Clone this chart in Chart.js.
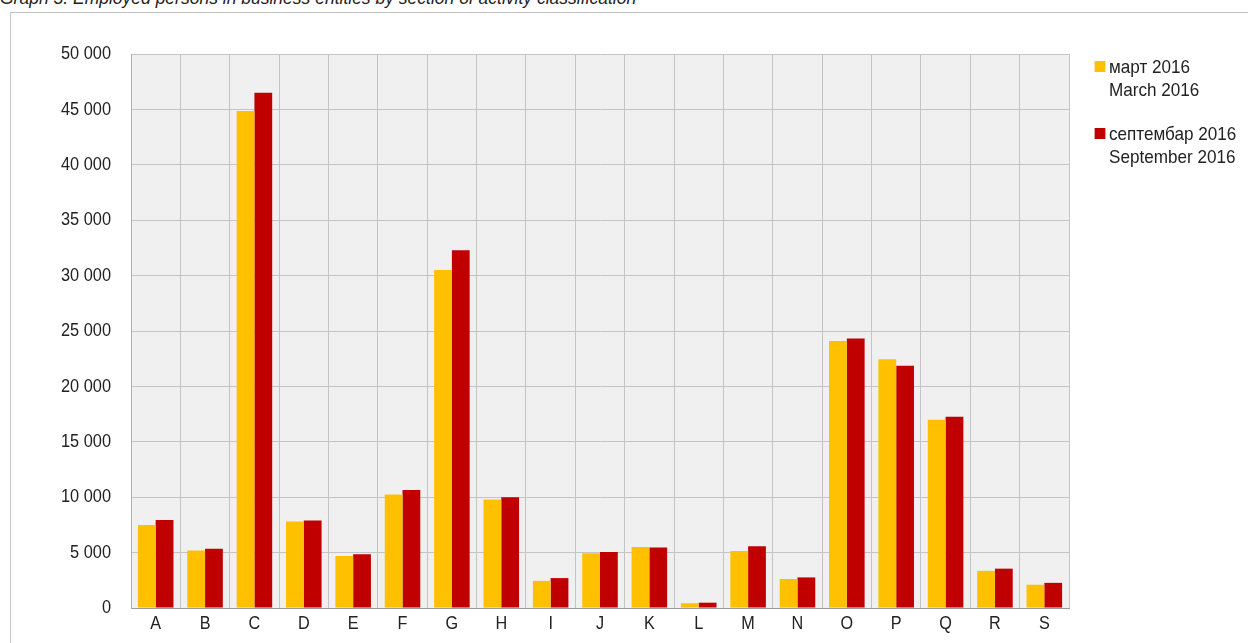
<!DOCTYPE html>
<html>
<head>
<meta charset="utf-8">
<script src="https://cdn.jsdelivr.net/npm/chart.js@4/dist/chart.umd.min.js"></script>
<style>
  html, body { margin: 0; padding: 0; background: #fff; overflow: hidden; }
  #title { position: absolute; left: 0; top: -12px; font: italic 17.5px "Liberation Sans", Arial, sans-serif; color: #222; line-height: 20px; white-space: nowrap; }
  #frame { position: absolute; left: 10px; top: 12px; width: 1260px; height: 700px; border: 1px solid #c4c4c4; box-sizing: border-box; }
  #wrap { position: absolute; left: 0; top: 0; width: 1248px; height: 643px; }
  .leg { position: absolute; left: 1109px; font: 19px "Liberation Sans", Arial, sans-serif; color: #222; line-height: 23px; white-space: nowrap; transform: scaleX(0.9); transform-origin: 0 0; }
  .box { position: absolute; left: -16px; top: 6px; width: 12px; height: 11px; }
</style>
</head>
<body>
<div id="title">Graph 3. Employed persons in business entities by section of activity classification</div>
<div id="frame"></div>
<div id="wrap"><canvas id="barChart"></canvas></div>
<div class="leg" style="top:55px"><span class="box" style="background:#FFC000"></span>март 2016<br>March 2016</div>
<div class="leg" style="top:122px"><span class="box" style="background:#C00000"></span>септембар 2016<br>September 2016</div>
<script>
const sections = ["A", "B", "C", "D", "E", "F", "G", "H", "I", "J", "K", "L", "M", "N", "O", "P", "Q", "R", "S"];
const march2016 = [7500, 5200, 44850, 7800, 4700, 10250, 30500, 9800, 2450, 4950, 5500, 430, 5150, 2620, 24100, 22450, 16980, 3350, 2100];
const september2016 = [7950, 5350, 46500, 7900, 4850, 10650, 32280, 10000, 2700, 5050, 5450, 480, 5580, 2760, 24320, 21870, 17250, 3550, 2270];
const yTicks = [0, 5000, 10000, 15000, 20000, 25000, 30000, 35000, 40000, 45000, 50000];

const FONT = "19px 'Liberation Sans', Arial, sans-serif";
const fmt = v => String(v).replace(/\B(?=(\d{3})+(?!\d))/g, " ");

// plot background + narrow tick labels (the source uses a condensed face)
const plotDeco = {
    id: "plotDeco",
    beforeDraw(chart) {
        const a = chart.chartArea;
        const ctx = chart.ctx;
        ctx.save();
        ctx.fillStyle = "#F0F0F0";
        ctx.fillRect(a.left, a.top, a.right - a.left, a.bottom - a.top);
        ctx.restore();
    },
    afterDraw(chart) {
        const ctx = chart.ctx;
        const a = chart.chartArea;
        const ys = chart.scales.y, xs = chart.scales.x;
        ctx.save();
        ctx.fillStyle = "#222";
        ctx.font = FONT;
        ctx.textBaseline = "middle";
        ctx.textAlign = "right";
        ys.ticks.forEach(t => {
            ctx.save();
            ctx.translate(a.left - 20, ys.getPixelForValue(t.value));
            ctx.scale(0.86, 1);
            ctx.fillText(fmt(t.value), 0, 0);
            ctx.restore();
        });
        ctx.textAlign = "center";
        sections.forEach((s, i) => {
            ctx.save();
            ctx.translate(xs.getPixelForValue(i), a.bottom + 16);
            ctx.scale(0.9, 1);
            ctx.font = "18px 'Liberation Sans', Arial, sans-serif";
            ctx.fillText(s, 0, 0);
            ctx.restore();
        });
        ctx.restore();
    }
};

const CHART = document.getElementById("barChart");

let barChart = new Chart(CHART, {
    type: 'bar',
    data: {
        labels: sections,
        datasets: [
            {
                label: "март 2016 / March 2016",
                backgroundColor: "#FFC000",
                data: march2016
            },
            {
                label: "септембар 2016 / September 2016",
                backgroundColor: "#C00000",
                data: september2016
            }
        ]
    },
    options: {
        responsive: true,
        maintainAspectRatio: false,
        animation: false,
        events: [],
        layout: { padding: { left: 0, top: 54, right: 179, bottom: 0 } },
        datasets: { bar: { categoryPercentage: 0.72, barPercentage: 1 } },
        plugins: {
            legend: { display: false },
            tooltip: { enabled: false }
        },
        scales: {
            x: {
                grid: { color: "#c4c4c4", drawTicks: false, offset: true },
                border: { color: "#9a9a9a", width: 1 },
                ticks: { display: false },
                afterFit(scale) { scale.height = 35; }
            },
            y: {
                min: 0,
                max: 50000,
                afterBuildTicks(scale) { scale.ticks = yTicks.map(v => ({ value: v })); },
                grid: { color: "#c4c4c4", drawTicks: false },
                border: { color: "#b0b0b0" },
                ticks: { display: false },
                afterFit(scale) { scale.width = 131; }
            }
        }
    },
    plugins: [plotDeco]
});
</script>
</body>
</html>
